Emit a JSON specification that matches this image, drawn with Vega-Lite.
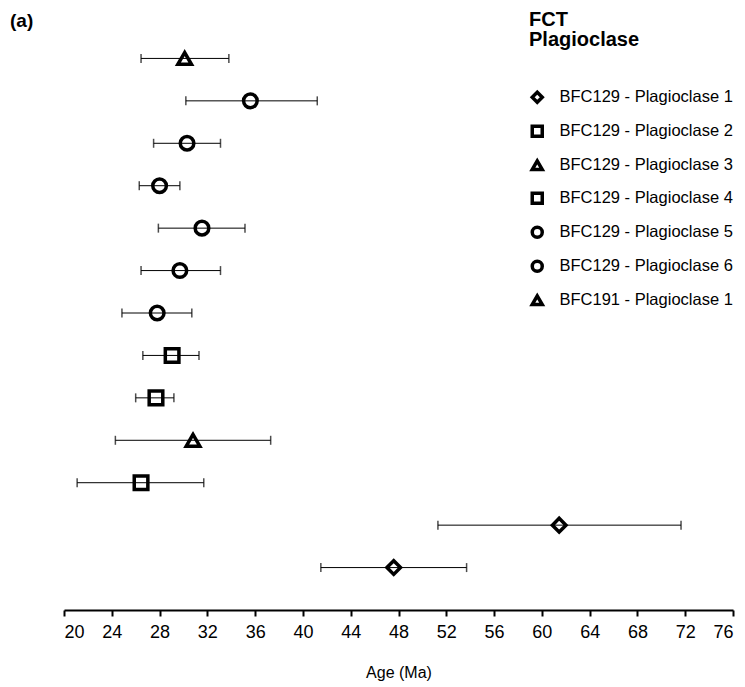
{
  "$schema": "https://vega.github.io/schema/vega-lite/v6.json",
  "width": 669,
  "height": 594,
  "autosize": {"type": "none"},
  "padding": {"left": 64, "top": 16, "right": 12, "bottom": 77},
  "background": "white",
  "config": {"view": {"stroke": null}, "font": "Liberation Sans"},
  "title": {"text": "(a)", "anchor": "start", "frame": "group", "dx": -54, "dy": 25, "fontSize": 19, "fontWeight": "bold", "font": "Liberation Sans", "color": "black"},
  "data": {"values": [
    {"sample": "BFC191 - Plagioclase 1", "row": 13, "age": 30.1, "low": 26.45, "high": 33.8},
    {"sample": "BFC129 - Plagioclase 6", "row": 12, "age": 35.6, "low": 30.2, "high": 41.2},
    {"sample": "BFC129 - Plagioclase 6", "row": 11, "age": 30.3, "low": 27.5, "high": 33.1},
    {"sample": "BFC129 - Plagioclase 6", "row": 10, "age": 28.0, "low": 26.3, "high": 29.7},
    {"sample": "BFC129 - Plagioclase 5", "row": 9, "age": 31.55, "low": 27.9, "high": 35.15},
    {"sample": "BFC129 - Plagioclase 5", "row": 8, "age": 29.7, "low": 26.45, "high": 33.1},
    {"sample": "BFC129 - Plagioclase 5", "row": 7, "age": 27.8, "low": 24.85, "high": 30.7},
    {"sample": "BFC129 - Plagioclase 4", "row": 6, "age": 29.05, "low": 26.6, "high": 31.3},
    {"sample": "BFC129 - Plagioclase 4", "row": 5, "age": 27.7, "low": 26.0, "high": 29.2},
    {"sample": "BFC129 - Plagioclase 3", "row": 4, "age": 30.8, "low": 24.3, "high": 37.3},
    {"sample": "BFC129 - Plagioclase 2", "row": 3, "age": 26.45, "low": 21.1, "high": 31.7},
    {"sample": "BFC129 - Plagioclase 1", "row": 2, "age": 61.45, "low": 51.3, "high": 71.65},
    {"sample": "BFC129 - Plagioclase 1", "row": 1, "age": 47.6, "low": 41.5, "high": 53.7}
  ]},
  "encoding": {
    "y": {"field": "row", "type": "quantitative", "scale": {"domain": [0, 14], "nice": false, "zero": false}, "axis": null}
  },
  "layer": [
    {
      "mark": {"type": "rule", "color": "black", "strokeWidth": 1},
      "encoding": {
        "x": {"field": "low", "type": "quantitative", "scale": {"domain": [20, 76], "nice": false, "zero": false},
          "title": "Age (Ma)",
          "axis": {"values": [20, 24, 28, 32, 36, 40, 44, 48, 52, 56, 60, 64, 68, 72, 76], "grid": false,
            "domainColor": "black", "domainWidth": 2, "tickColor": "black", "tickWidth": 2, "tickSize": 6,
            "labelFontSize": 18, "labelColor": "black", "labelPadding": 7, "labelFont": "Liberation Sans",
            "titleFontSize": 16, "titleFontWeight": "normal", "titleColor": "black", "titlePadding": 23, "titleFont": "Liberation Sans"}},
        "x2": {"field": "high"}
      }
    },
    {
      "mark": {"type": "tick", "orient": "vertical", "color": "black", "thickness": 1.5, "size": 9},
      "encoding": {"x": {"field": "low", "type": "quantitative"}}
    },
    {
      "mark": {"type": "tick", "orient": "vertical", "color": "black", "thickness": 1.5, "size": 9},
      "encoding": {"x": {"field": "high", "type": "quantitative"}}
    },
    {
      "mark": {"type": "point", "filled": false, "strokeWidth": 3.5, "size": 185, "color": "black", "opacity": 1},
      "encoding": {
        "x": {"field": "age", "type": "quantitative"},
        "shape": {"field": "sample", "type": "nominal",
          "scale": {"domain": ["BFC129 - Plagioclase 1", "BFC129 - Plagioclase 2", "BFC129 - Plagioclase 3", "BFC129 - Plagioclase 4", "BFC129 - Plagioclase 5", "BFC129 - Plagioclase 6", "BFC191 - Plagioclase 1"],
            "range": ["diamond", "square", "triangle-up", "square", "circle", "circle", "triangle-up"]},
          "legend": {"title": ["FCT", "Plagioclase"], "orient": "none", "legendX": 465, "legendY": -6,
            "titleFontSize": 20, "titleFontWeight": "bold", "titleColor": "black", "titleLineHeight": 20, "titlePadding": 39, "titleFont": "Liberation Sans",
            "labelFontSize": 16.5, "labelColor": "black", "labelOffset": 14, "labelFont": "Liberation Sans", "labelLimit": 400,
            "symbolSize": 100, "symbolStrokeWidth": 3.5, "symbolStrokeColor": "black", "symbolFillColor": "transparent",
            "rowPadding": 9, "padding": 0}}
      }
    }
  ]
}
